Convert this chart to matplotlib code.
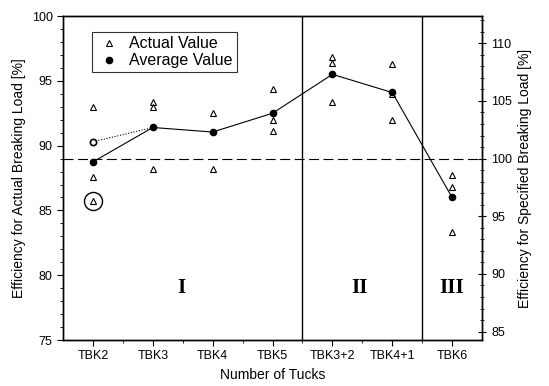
import numpy as np
import matplotlib
matplotlib.use('Agg')
import matplotlib.pyplot as plt
from matplotlib.ticker import MultipleLocator

plt.rcParams['font.family'] = ['Liberation Sans', 'DejaVu Sans']

# データ
categories = ['TBK2', 'TBK3', 'TBK4', 'TBK5', 'TBK3+2', 'TBK4+1', 'TBK6']
actual = [
    [93.0, 87.6, 85.7],
    [93.4, 93.0, 88.2],
    [92.5, 88.2],
    [94.4, 92.0, 91.1],
    [96.8, 96.4, 93.4],
    [96.3, 94.0, 92.0],
    [87.7, 86.8, 83.3],
]
average = [88.75, 91.4, 91.05, 92.5, 95.5, 94.1, 86.0]
outlier_idx = 0          # TBK2 の外れ値 (丸で囲む)
outlier_value = 85.7
avg_without_outlier = 90.3
spec_ratio = 89.0        # 規定破断荷重 = 実破断荷重の 89%
regions = ['I', 'II', 'III']
region_x = [1.48, 4.45, 6.0]
region_y = 79.0
region_bounds = [3.5, 5.5]

x = np.arange(len(categories))

fig = plt.figure(figsize=(5.49, 3.86), dpi=100)
ax = fig.add_axes([0.1148, 0.119, 0.7632, 0.8395])

# 実測値
for i, vals in enumerate(actual):
    ax.plot([i] * len(vals), vals, linestyle='none', marker='^', markersize=5,
            markerfacecolor='white', markeredgecolor='black', markeredgewidth=0.8)
ax.plot([], [], linestyle='none', marker='^', markersize=5, markerfacecolor='white',
        markeredgecolor='black', markeredgewidth=0.8, label='Actual Value')

# 平均値
ax.plot(x, average, color='black', linewidth=0.8, marker='o', markersize=4.5, zorder=4)
ax.plot([], [], linestyle='none', color='black', marker='o', markersize=4.5,
        label='Average Value')
ax.plot([0, 1], [avg_without_outlier, average[1]], color='black', linewidth=0.8,
        linestyle=(0, (1, 1.5)), zorder=3)
ax.plot(0, avg_without_outlier, marker='o', markersize=4.5, markerfacecolor='white',
        markeredgecolor='black', markeredgewidth=1.2, zorder=5)
ax.plot(outlier_idx, outlier_value, marker='o', markersize=13, markerfacecolor='none',
        markeredgecolor='black', markeredgewidth=1.0)

ax.axhline(spec_ratio, color='black', linewidth=0.8, linestyle=(0, (9, 4)), zorder=1)
for b in region_bounds:
    ax.axvline(b, color='black', linewidth=1.0)
for r, rx in zip(regions, region_x):
    ax.text(rx, region_y, r, ha='center', va='center', fontsize=15, fontweight='bold',
            family=['Liberation Serif', 'DejaVu Serif'])

ax.set_xlim(-0.5, 6.5)
ax.set_ylim(75, 100)
ax.set_xticks(x)
ax.set_xticklabels(categories, fontsize=9)
ax.set_xticks(x[:-1] + 0.5, minor=True)
ax.yaxis.set_major_locator(MultipleLocator(5))
ax.yaxis.set_minor_locator(MultipleLocator(1))
ax.tick_params(axis='y', labelsize=9)
ax.tick_params(which='both', direction='out', right=False, top=False)
ax.tick_params(which='major', length=4)
ax.tick_params(which='minor', length=2.5)
ax.set_xlabel('Number of Tucks', fontsize=10)
ax.set_ylabel('Efficiency for Actual Breaking Load [%]', fontsize=10)

ax2 = ax.twinx()
ax2.set_ylim(75 * 100 / spec_ratio, 100 * 100 / spec_ratio)
ax2.yaxis.set_major_locator(MultipleLocator(5))
ax2.yaxis.set_minor_locator(MultipleLocator(1))
ax2.tick_params(which='both', direction='inout', labelsize=9)
ax2.tick_params(which='major', length=6)
ax2.tick_params(which='minor', length=3)
ax2.set_ylabel('Efficiency for Specified Breaking Load [%]', fontsize=10)

leg = ax.legend(loc='upper left', bbox_to_anchor=(0.05, 0.975), fontsize=11.5,
                frameon=True, fancybox=False, edgecolor='black', handletextpad=0.5,
                borderpad=0.25, labelspacing=0.15, handlelength=1.6)
leg.get_frame().set_linewidth(0.8)

for a in (ax, ax2):
    for s in a.spines.values():
        s.set_linewidth(1.0)

fig.savefig('out.png', dpi=100)
